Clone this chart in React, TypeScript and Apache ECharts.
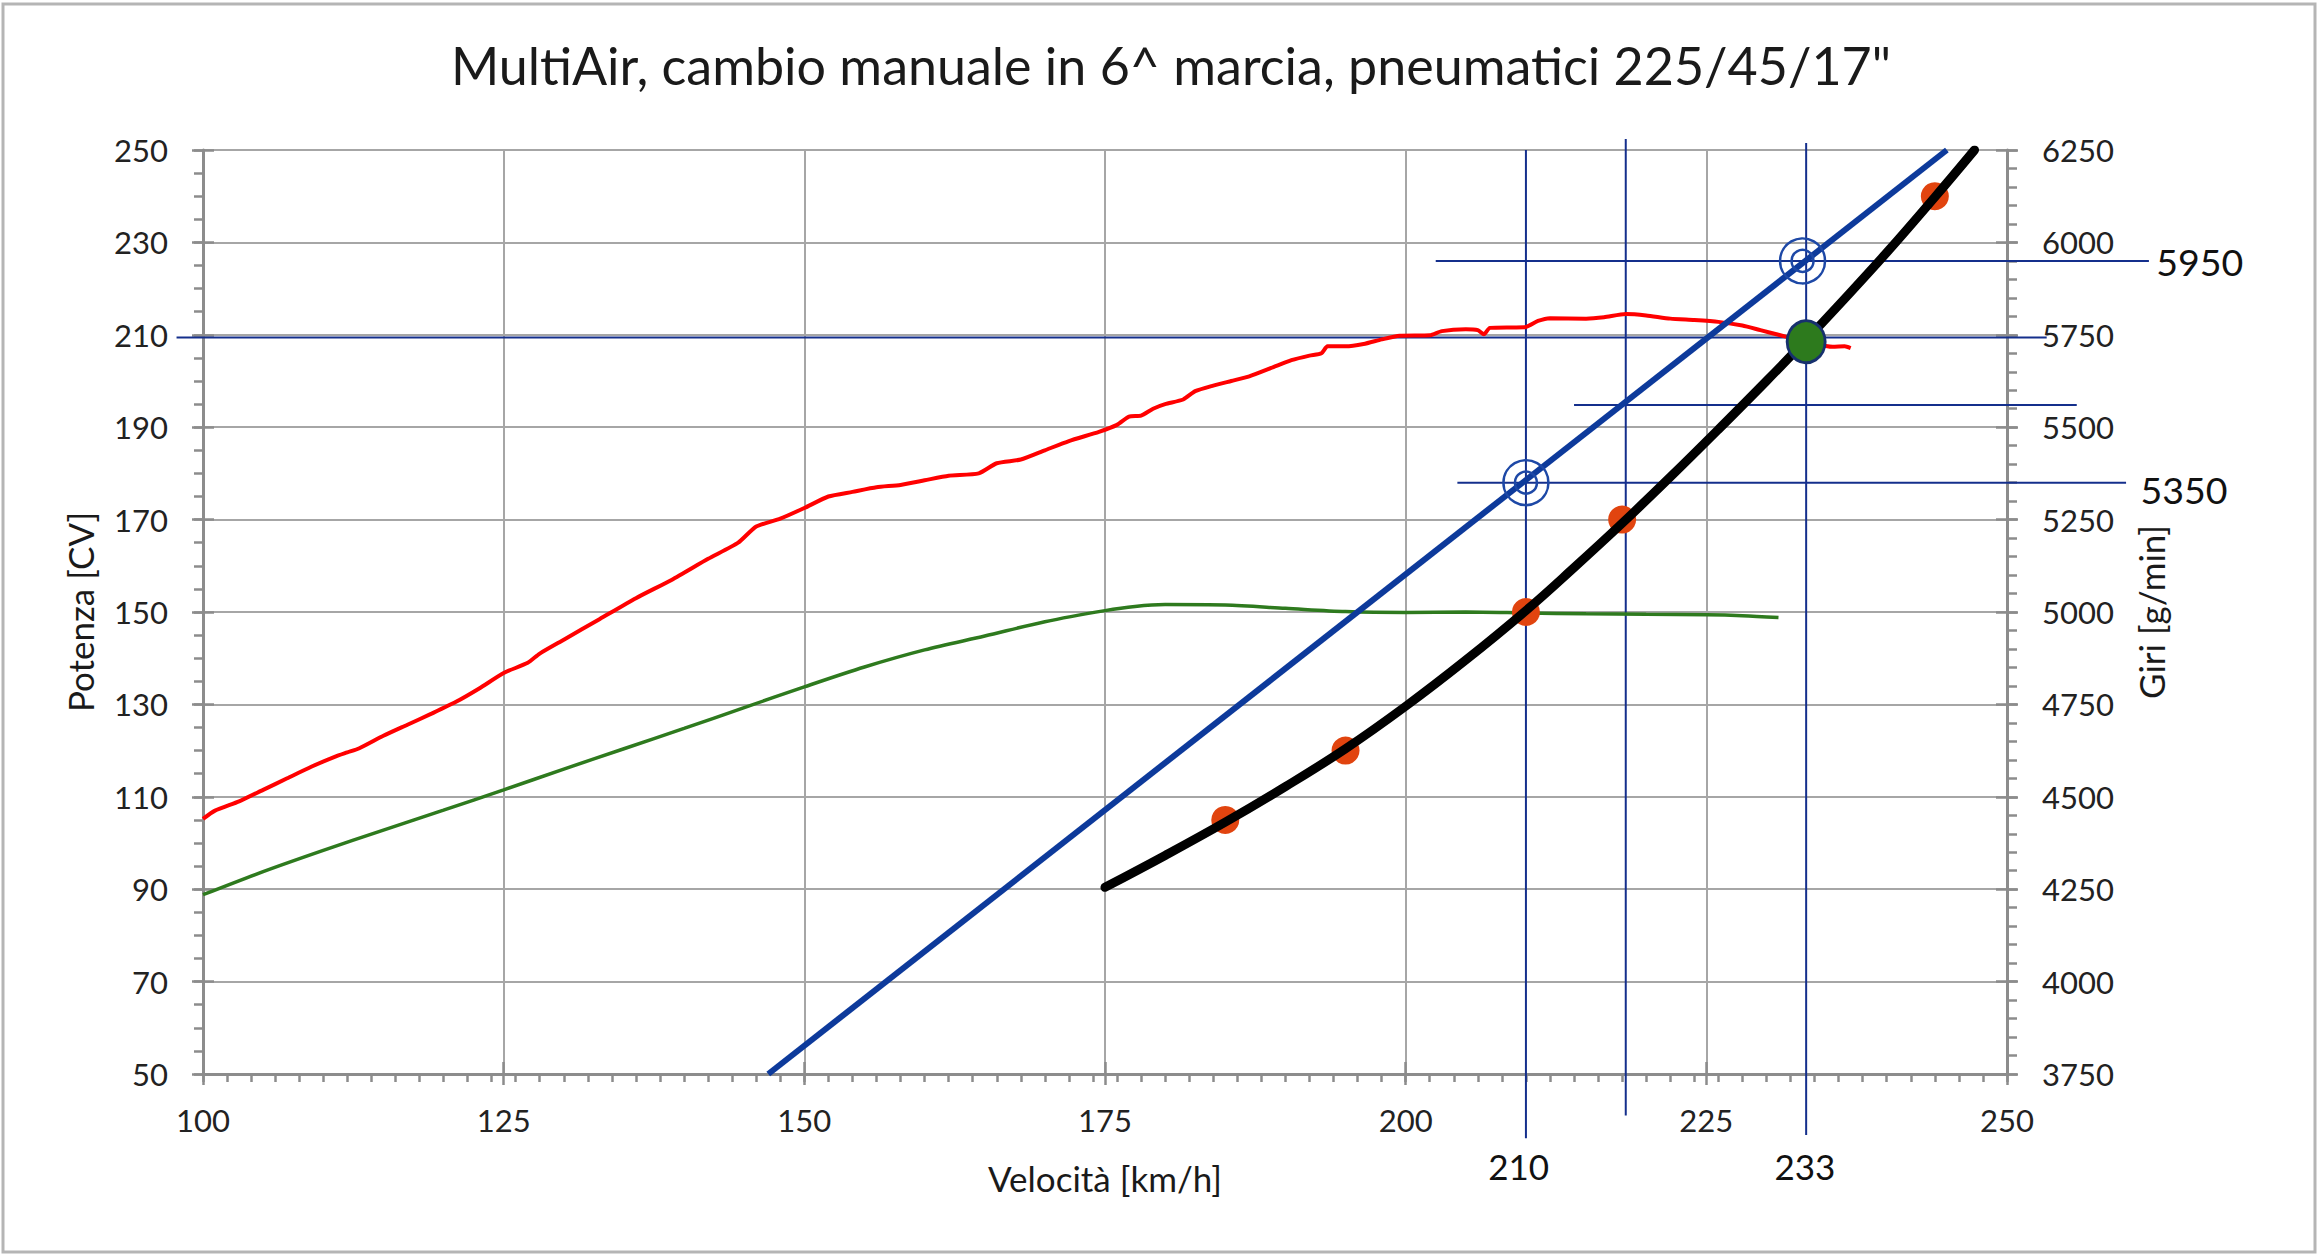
import React, { useEffect, useRef } from 'react';
import * as echarts from 'echarts';

// ---------- texts ----------
const chartTitle = 'MultiAir, cambio manuale in 6^ marcia, pneumatici 225/45/17"';
const xAxisName = 'Velocità [km/h]';
const leftAxisName = 'Potenza [CV]';
const rightAxisName = 'Giri [g/min]';

// ---------- axes ----------
const speedMin = 100;
const speedMax = 250;
const speedStep = 25;
const speedMinorStep = 2;
const powerMin = 50; // CV at bottom
const rpmMin = 3750;
const rpmMax = 6250;
const rpmStep = 250;
const rpmMinorStep = 50;
const rpmPerCv = 12.5; // 200 CV span <-> 2500 rpm span
const cvMinorStep = 5;

// ---------- series (power in CV) ----------
const redSpeed = [100, 101, 103, 105, 107, 109, 111, 112, 113, 115, 117, 119, 121, 123, 125, 127, 128, 130, 133, 136, 139, 142, 144.5, 146, 148, 150, 152, 154, 156, 158, 160, 162, 164.5, 166, 168, 170, 172, 174.5, 176, 177, 178, 179, 180, 181.5, 182.5, 184, 185.5, 187, 189, 190.5, 192, 193, 193.5, 195, 196.5, 198, 199.5, 202, 203, 205, 206, 206.5, 207, 209, 210, 211, 212, 215, 216.5, 218.3, 220, 222, 224, 226, 228, 229.5, 231, 232.5, 234, 235.5, 236.5, 237];
const redPower = [105.2, 107, 109, 111.5, 114, 116.5, 118.7, 119.6, 120.5, 123.2, 125.6, 128, 130.5, 133.5, 136.8, 139, 141, 144, 148.5, 153, 157, 161.5, 165, 168.5, 170.2, 172.5, 175, 176, 177, 177.5, 178.5, 179.5, 180, 182.2, 183, 185, 187, 189, 190.5, 192.3, 192.5, 194, 195, 196, 197.8, 199, 200, 201, 203, 204.5, 205.5, 206, 207.5, 207.5, 208, 209, 209.8, 209.9, 210.8, 211.2, 211, 210.1, 211.5, 211.6, 211.7, 213, 213.6, 213.5, 213.8, 214.5, 214.2, 213.5, 213.2, 212.8, 212, 211, 210, 209, 208, 207.4, 207.5, 207.1];

const greenSpeed = [100, 105, 110, 115, 120, 125, 130, 135, 140, 145, 150, 155, 160, 165, 170, 175, 177.5, 180, 185, 190, 195, 200, 205, 210, 215, 220, 225, 228, 231];
const greenPower = [88.8, 93.8, 98.4, 102.8, 107.1, 111.5, 116, 120.4, 124.8, 129.3, 133.8, 138.1, 141.8, 144.8, 147.9, 150.3, 151.2, 151.6, 151.5, 150.8, 150.1, 149.9, 150, 149.8, 149.6, 149.5, 149.4, 149.2, 148.8];

const blackSpeed = [175, 180, 185, 190, 195, 200, 205, 210, 214, 218, 222, 226, 230, 233.3, 236, 240, 244, 247.3];
const blackPower = [90.4, 97.3, 104.5, 112.2, 120.4, 129.6, 139.6, 150.3, 159.6, 169.2, 179.2, 189.5, 200, 208.9, 216.4, 227.8, 239.8, 250];

const dotSpeed = [185, 195, 210, 218, 244];
const dotPower = [105, 120, 150, 170, 240];

const maxSpeedPoint = { speed: 233.3, power: 208.5 };

// ---------- engine speed line (rpm) ----------
const blueSpeed = [147, 245];
const blueRpm = [3750, 6250];

const targetSpeed = [210, 233];
const targetRpm = [5350, 5950];

// ---------- annotation lines ----------
const vLineSpeed = [210, 218.3, 233.3];
const vLineFromCv = [36.1, 41, 36.8];
const vLineToCv = [250, 252.4, 251.5];

const hLineRpm = [5950, 5560, 5350];
const hLineFromSpeed = [202.5, 214, 204.3];
const hLineToSpeed = [261.8, 255.8, 259.9];

const powerLineCv = 209.4;
const powerLineFromSpeed = 97.8;
const powerLineToSpeed = 253.3;

// ---------- annotation labels ----------
const noteText = ['5950', '5350', '210', '233'];
const noteSpeed = [262.4, 261.1, 209.4, 233.2];
const noteRpm = [5949, 5331, 3500, 3502];
const noteAlign = ['left', 'left', 'center', 'center'];

const cvToRpm = (cv: number) => rpmMin + (cv - powerMin) * rpmPerCv;
const rpmToCv = (rpm: number) => (rpm - rpmMin) / rpmPerCv + powerMin;

const FONT = 'Lato, "Noto Sans", sans-serif';
const AXIS_GRAY = '#8c8c8c';
const GRID_GRAY = '#a6a6a6';
const NAVY = '#142f8c';

export default function App() {
  const ref = useRef<HTMLDivElement>(null);

  useEffect(() => {
    if (!ref.current) return;
    const chart = echarts.init(ref.current, undefined, { renderer: 'svg' });

    const annotLines: number[][] = [];
    vLineSpeed.forEach((s, i) => annotLines.push([s, cvToRpm(vLineFromCv[i]), s, cvToRpm(vLineToCv[i])]));
    hLineRpm.forEach((r, i) => annotLines.push([hLineFromSpeed[i], r, hLineToSpeed[i], r]));
    annotLines.push([powerLineFromSpeed, cvToRpm(powerLineCv), powerLineToSpeed, cvToRpm(powerLineCv)]);

    const baseY = {
      type: 'value' as const,
      min: rpmMin,
      max: rpmMax,
      axisLabel: { show: false },
      axisLine: { show: false },
      splitLine: { show: false },
    };
    const baseX = {
      type: 'value' as const,
      min: speedMin,
      max: speedMax,
      position: 'bottom' as const,
      axisLabel: { show: false },
      axisLine: { show: false },
      splitLine: { show: false },
    };
    const tickStyle = { color: AXIS_GRAY, width: 2.5 };
    const labelStyle = { fontFamily: FONT, fontSize: 31, color: '#222222' };
    const nameStyle = { fontFamily: FONT, fontSize: 35, color: '#1a1a1a' };

    const option: any = {
      animation: false,
      backgroundColor: '#ffffff',
      grid: { left: 203, top: 150, width: 1804, height: 924, containLabel: false },
      graphic: [
        {
          type: 'rect',
          shape: { x: 3, y: 4, width: 2312, height: 1248 },
          style: { fill: 'none', stroke: '#b5b5b5', lineWidth: 3 },
          silent: true,
        },
        {
          type: 'text',
          x: 1171,
          y: 65,
          style: {
            text: chartTitle,
            fontFamily: FONT,
            fontSize: 52,
            fill: '#1a1a1a',
            align: 'center',
            verticalAlign: 'middle',
            textAlign: 'center',
            textVerticalAlign: 'middle',
          },
        },
      ],
      xAxis: [
        {
          type: 'value',
          min: speedMin,
          max: speedMax,
          interval: speedStep,
          position: 'bottom',
          name: xAxisName,
          nameLocation: 'middle',
          nameGap: 86,
          nameTextStyle: nameStyle,
          axisLine: { show: true, lineStyle: { color: AXIS_GRAY, width: 3 } },
          axisTick: { show: true, length: 11, lineStyle: tickStyle },
          axisLabel: { ...labelStyle, margin: 30 },
          splitLine: { show: true, lineStyle: { color: GRID_GRAY, width: 2 } },
        },
        { ...baseX, interval: speedMinorStep, axisTick: { show: true, length: 8, lineStyle: tickStyle } },
        { ...baseX, interval: speedStep, axisTick: { show: true, inside: true, length: 12, lineStyle: tickStyle } },
      ],
      yAxis: [
        {
          type: 'value',
          min: rpmMin,
          max: rpmMax,
          interval: rpmStep,
          position: 'left',
          name: leftAxisName,
          nameLocation: 'middle',
          nameRotate: 90,
          nameGap: 106,
          nameTextStyle: nameStyle,
          axisLine: { show: true, lineStyle: { color: AXIS_GRAY, width: 3 } },
          axisTick: { show: true, length: 11, lineStyle: tickStyle },
          axisLabel: {
            ...labelStyle,
            margin: 35,
            formatter: (v: number) => String(Math.round(rpmToCv(v))),
          },
          splitLine: { show: true, lineStyle: { color: GRID_GRAY, width: 2 } },
        },
        {
          type: 'value',
          min: rpmMin,
          max: rpmMax,
          interval: rpmStep,
          position: 'right',
          name: rightAxisName,
          nameLocation: 'middle',
          nameRotate: 90,
          nameGap: 126,
          nameTextStyle: nameStyle,
          axisLine: { show: true, lineStyle: { color: AXIS_GRAY, width: 3 } },
          axisTick: { show: true, length: 11, lineStyle: tickStyle },
          axisLabel: { ...labelStyle, margin: 35, formatter: (v: number) => String(Math.round(v)) },
          splitLine: { show: false },
        },
        { ...baseY, position: 'left', interval: cvMinorStep * rpmPerCv, axisTick: { show: true, length: 9, lineStyle: tickStyle } },
        { ...baseY, position: 'right', interval: rpmMinorStep, axisTick: { show: true, length: 10, lineStyle: tickStyle } },
        { ...baseY, position: 'left', interval: rpmStep, axisTick: { show: true, inside: true, length: 11, lineStyle: tickStyle } },
        { ...baseY, position: 'right', interval: rpmStep, axisTick: { show: true, inside: true, length: 11, lineStyle: tickStyle } },
      ],
      series: [
        {
          type: 'custom',
          name: 'annotation lines',
          z: 2,
          clip: false,
          data: annotLines,
          renderItem: (params: any, api: any) => {
            const p1 = api.coord([api.value(0), api.value(1)]);
            const p2 = api.coord([api.value(2), api.value(3)]);
            return {
              type: 'line',
              shape: { x1: p1[0], y1: p1[1], x2: p2[0], y2: p2[1] },
              style: { stroke: NAVY, lineWidth: 2 },
            };
          },
        },
        {
          type: 'line',
          name: 'Potenza motore',
          z: 3,
          showSymbol: false,
          smooth: 0.2,
          data: redSpeed.map((s, i) => [s, cvToRpm(redPower[i])]),
          lineStyle: { color: '#ff0000', width: 4 },
        },
        {
          type: 'line',
          name: 'Potenza ruote',
          z: 3,
          showSymbol: false,
          smooth: 0.3,
          data: greenSpeed.map((s, i) => [s, cvToRpm(greenPower[i])]),
          lineStyle: { color: '#2e7a1e', width: 3.5 },
        },
        {
          type: 'line',
          name: 'Giri',
          z: 3,
          showSymbol: false,
          data: blueSpeed.map((s, i) => [s, blueRpm[i]]),
          lineStyle: { color: '#0d3a9b', width: 6 },
        },
        {
          type: 'scatter',
          name: 'punti',
          z: 4,
          symbol: 'circle',
          symbolSize: 28,
          data: dotSpeed.map((s, i) => [s, cvToRpm(dotPower[i])]),
          itemStyle: { color: '#e1440f', opacity: 1 },
        },
        {
          type: 'line',
          name: 'Potenza richiesta',
          z: 5,
          showSymbol: false,
          smooth: 0.4,
          data: blackSpeed.map((s, i) => [s, cvToRpm(blackPower[i])]),
          lineStyle: { color: '#000000', width: 9, cap: 'round' },
        },
        {
          type: 'scatter',
          name: 'velocità massima',
          z: 6,
          symbol: 'circle',
          symbolSize: [38, 42],
          data: [[maxSpeedPoint.speed, cvToRpm(maxSpeedPoint.power)]],
          itemStyle: { color: '#2d7a1d', borderColor: '#17306e', borderWidth: 3, opacity: 1 },
        },
        {
          type: 'scatter',
          name: 'target outer',
          z: 6,
          symbol: 'circle',
          symbolSize: 45,
          data: targetSpeed.map((s, i) => [s, targetRpm[i]]),
          itemStyle: { color: 'rgba(0,0,0,0)', borderColor: '#1d48a6', borderWidth: 2.5, opacity: 1 },
        },
        {
          type: 'scatter',
          name: 'target inner',
          z: 6,
          symbol: 'circle',
          symbolSize: 22,
          data: targetSpeed.map((s, i) => [s, targetRpm[i]]),
          itemStyle: { color: 'rgba(0,0,0,0)', borderColor: '#1d48a6', borderWidth: 2.5, opacity: 1 },
        },
        {
          type: 'custom',
          name: 'annotation labels',
          z: 7,
          clip: false,
          data: noteSpeed.map((s, i) => [s, noteRpm[i]]),
          renderItem: (params: any, api: any) => {
            const i = params.dataIndex;
            const p = api.coord([api.value(0), api.value(1)]);
            const big = i < 2;
            return {
              type: 'text',
              x: p[0],
              y: p[1],
              style: {
                text: noteText[i],
                fontFamily: FONT,
                fontSize: big ? 37.5 : 35,
                fill: '#111111',
                align: noteAlign[i],
                verticalAlign: 'middle',
              },
            };
          },
        },
      ],
    };

    chart.setOption(option);
    return () => chart.dispose();
  }, []);

  return (
    <div
      ref={ref}
      style={{ position: 'absolute', left: 0, top: 0, width: 2318, height: 1257, background: '#ffffff' }}
    />
  );
}
